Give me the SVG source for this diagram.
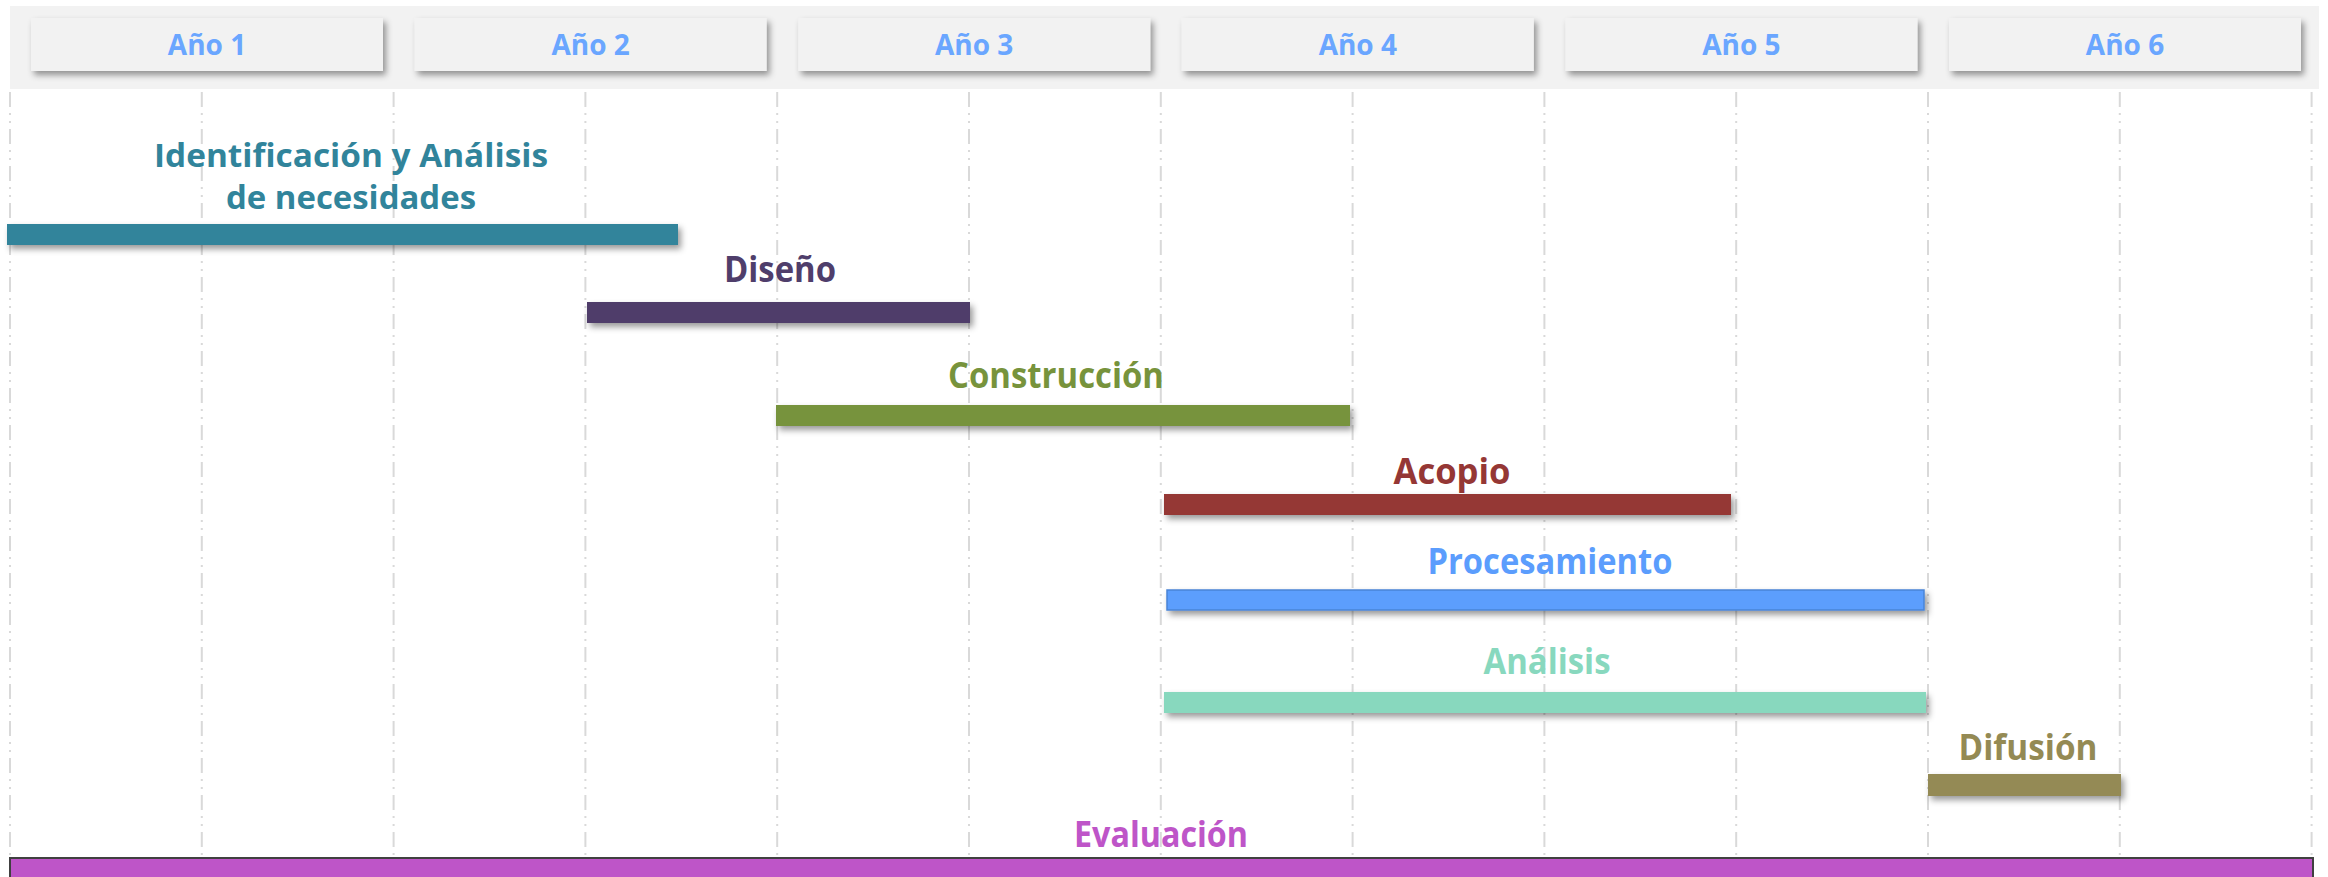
<svg xmlns="http://www.w3.org/2000/svg" width="2328" height="877" viewBox="0 0 2328 877">
<defs>
<filter id="sh" x="-5%" y="-50%" width="110%" height="250%">
<feDropShadow dx="3" dy="4" stdDeviation="3" flood-color="#000" flood-opacity="0.4"/>
</filter>
<style>
.grid line{stroke:#d9d9d9;stroke-width:2;stroke-dasharray:15 6 2 6 2 6}
.tab{fill:#f2f2f2;filter:url(#sh)}
.yr{font-family:"Open Sans","Noto Sans",sans-serif;font-weight:bold;font-size:28px;fill:#6aa6ff;text-anchor:middle}
.lbl{font-family:"Open Sans","Noto Sans",sans-serif;font-weight:bold;font-size:35px;text-anchor:middle}
.lbl2{font-size:33px}
.bar{filter:url(#sh)}
</style>
</defs>
<rect width="2328" height="877" fill="#fff"/>
<rect x="10" y="6" width="2309" height="83" fill="#f2f2f2"/>
<g id="header">
<g id="year1"><rect class="tab" x="31" y="18" width="352" height="53"/><text class="yr" x="207" y="55">Año 1</text></g>
<g id="year2"><rect class="tab" x="414.6" y="18" width="352" height="53"/><text class="yr" x="590.6" y="55">Año 2</text></g>
<g id="year3"><rect class="tab" x="798.2" y="18" width="352" height="53"/><text class="yr" x="974.2" y="55">Año 3</text></g>
<g id="year4"><rect class="tab" x="1181.8" y="18" width="352" height="53"/><text class="yr" x="1357.8" y="55">Año 4</text></g>
<g id="year5"><rect class="tab" x="1565.4" y="18" width="352" height="53"/><text class="yr" x="1741.4" y="55">Año 5</text></g>
<g id="year6"><rect class="tab" x="1949" y="18" width="352" height="53"/><text class="yr" x="2125" y="55">Año 6</text></g>
</g>
<g id="grid" class="grid">
<line x1="10" y1="92" x2="10" y2="877"/>
<line x1="201.8" y1="92" x2="201.8" y2="877"/>
<line x1="393.6" y1="92" x2="393.6" y2="877"/>
<line x1="585.4" y1="92" x2="585.4" y2="877"/>
<line x1="777.2" y1="92" x2="777.2" y2="877"/>
<line x1="969" y1="92" x2="969" y2="877"/>
<line x1="1160.8" y1="92" x2="1160.8" y2="877"/>
<line x1="1352.6" y1="92" x2="1352.6" y2="877"/>
<line x1="1544.4" y1="92" x2="1544.4" y2="877"/>
<line x1="1736.2" y1="92" x2="1736.2" y2="877"/>
<line x1="1928" y1="92" x2="1928" y2="877"/>
<line x1="2119.8" y1="92" x2="2119.8" y2="877"/>
<line x1="2311.6" y1="92" x2="2311.6" y2="877"/>
</g>
<g id="connectors"></g>
<g id="identificacion">
<text class="lbl lbl2" fill="#31849b" x="351" y="167" textLength="394" lengthAdjust="spacingAndGlyphs">Identificación y Análisis</text>
<text class="lbl lbl2" fill="#31849b" x="351" y="209" textLength="250" lengthAdjust="spacingAndGlyphs">de necesidades</text>
<rect class="bar" x="7" y="224" width="671" height="21" fill="#31849b"/>
</g>
<g id="diseno">
<text class="lbl" fill="#4f3e6b" x="780" y="282" textLength="112" lengthAdjust="spacingAndGlyphs">Diseño</text>
<rect class="bar" x="587" y="302" width="383" height="21" fill="#4f3e6b"/>
</g>
<g id="construccion">
<text class="lbl" fill="#77933c" x="1056" y="388" textLength="216" lengthAdjust="spacingAndGlyphs">Construcción</text>
<rect class="bar" x="776" y="405" width="574" height="21" fill="#77933c"/>
</g>
<g id="acopio">
<text class="lbl" fill="#953735" x="1452" y="484" textLength="117" lengthAdjust="spacingAndGlyphs">Acopio</text>
<rect class="bar" x="1164" y="494" width="567" height="21" fill="#953735"/>
</g>
<g id="procesamiento">
<text class="lbl" fill="#5b9dfd" x="1550" y="574" textLength="245" lengthAdjust="spacingAndGlyphs">Procesamiento</text>
<rect class="bar" x="1167" y="590" width="757" height="20" fill="#5b9efd" stroke="#4a84d6" stroke-width="1.5"/>
</g>
<g id="analisis">
<text class="lbl" fill="#88d8be" x="1547" y="674" textLength="127" lengthAdjust="spacingAndGlyphs">Análisis</text>
<rect class="bar" x="1164" y="692" width="762" height="21" fill="#88d8be"/>
</g>
<g id="difusion">
<text class="lbl" fill="#948a54" x="2028" y="760" textLength="139" lengthAdjust="spacingAndGlyphs">Difusión</text>
<rect class="bar" x="1928" y="774" width="193" height="22" fill="#948a54"/>
</g>
<g id="evaluacion">
<text class="lbl" fill="#be55c8" x="1161" y="847" textLength="174" lengthAdjust="spacingAndGlyphs">Evaluación</text>
<rect x="10" y="858" width="2303" height="30" fill="#be55c8" stroke="#404040" stroke-width="2"/>
</g>
</svg>
